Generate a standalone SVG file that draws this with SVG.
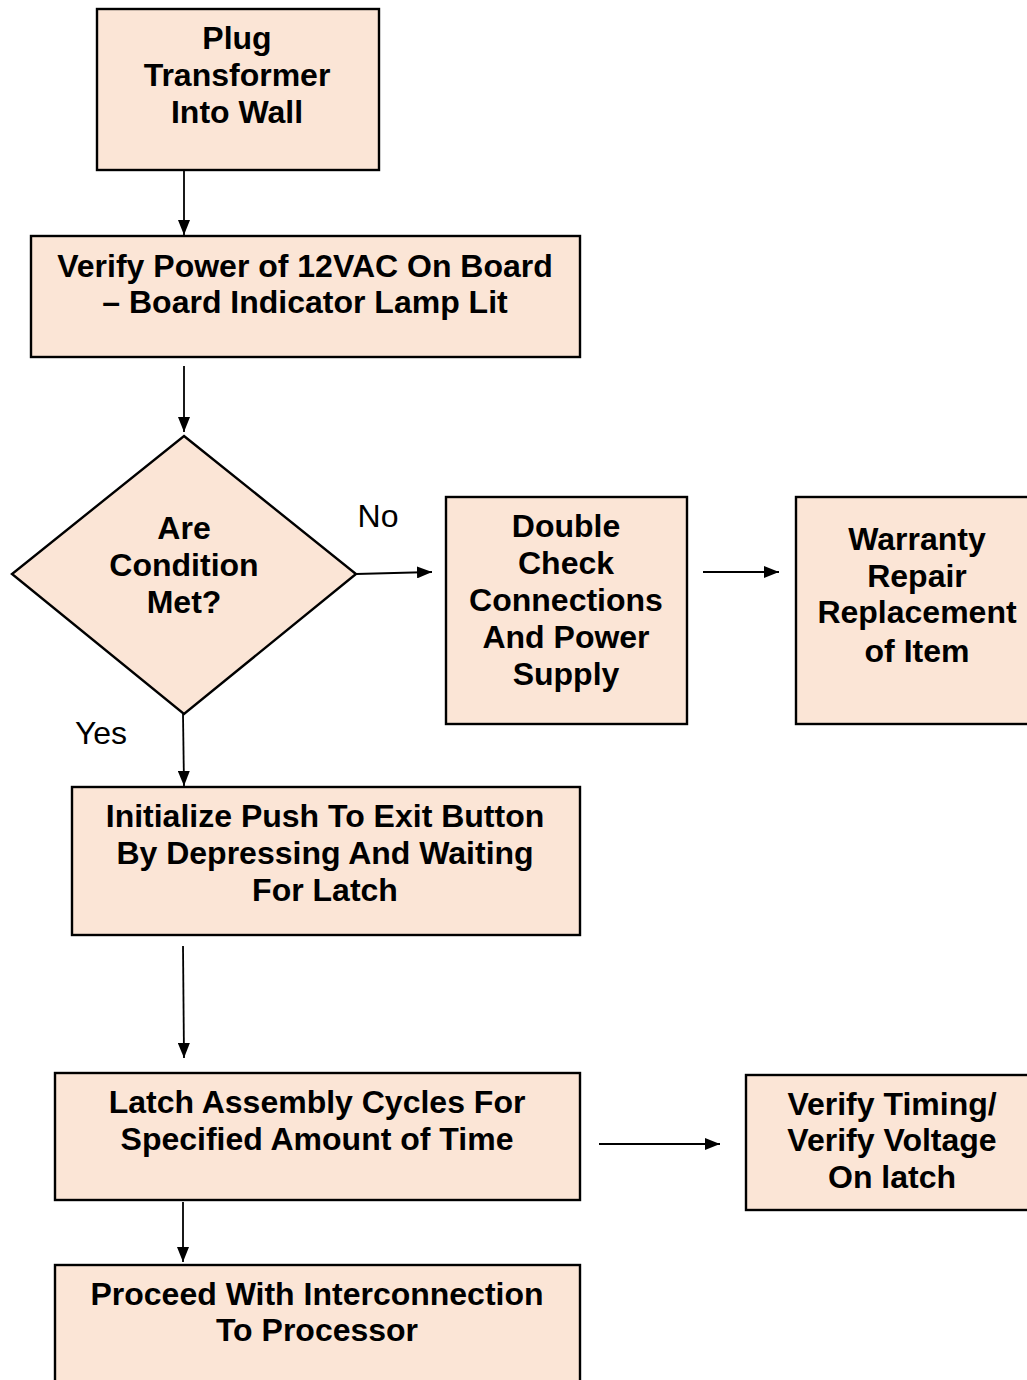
<svg xmlns="http://www.w3.org/2000/svg" width="1027" height="1380" viewBox="0 0 1027 1380">
<defs>
<marker id="ah" viewBox="0 0 15 12" refX="15" refY="6" markerWidth="15" markerHeight="12" markerUnits="userSpaceOnUse" orient="auto">
<path d="M0,0 L15,6 L0,12 Z" fill="#000"/>
</marker>
<style>
.box{fill:#FBE5D6;stroke:#000;stroke-width:2.4}
.t{font-family:"Liberation Sans",Arial,sans-serif;font-weight:bold;font-size:32px;fill:#000;text-anchor:middle}
.l{font-family:"Liberation Sans",Arial,sans-serif;font-size:32px;fill:#000;text-anchor:middle}
.c{stroke:#000;stroke-width:1.8;fill:none;marker-end:url(#ah)}
</style>
</defs>
<rect width="1027" height="1380" fill="#fff"/>
<g id="n1"><rect class="box" x="97" y="9" width="282" height="161"/>
<text class="t" x="237"><tspan x="237" y="49">Plug</tspan><tspan x="237" y="86">Transformer</tspan><tspan x="237" y="123">Into Wall</tspan></text></g>
<g id="n2"><rect class="box" x="31" y="236" width="549" height="121"/>
<text class="t"><tspan x="305" y="277">Verify Power of 12VAC On Board</tspan><tspan x="305" y="313">– Board Indicator Lamp Lit</tspan></text></g>
<g id="n3"><path class="box" d="M184,436 L356,574 L184,714 L12,574 Z"/>
<text class="t"><tspan x="184" y="539">Are</tspan><tspan x="184" y="576">Condition</tspan><tspan x="184" y="613">Met?</tspan></text></g>
<g id="n4"><rect class="box" x="446" y="497" width="241" height="227"/>
<text class="t"><tspan x="566" y="537">Double</tspan><tspan x="566" y="574">Check</tspan><tspan x="566" y="611">Connections</tspan><tspan x="566" y="648">And Power</tspan><tspan x="566" y="685">Supply</tspan></text></g>
<g id="n5"><rect class="box" x="796" y="497" width="250" height="227"/>
<text class="t"><tspan x="917" y="550">Warranty</tspan><tspan x="917" y="587">Repair</tspan><tspan x="917" y="623">Replacement</tspan><tspan x="917" y="662">of Item</tspan></text></g>
<g id="n6"><rect class="box" x="72" y="787" width="508" height="148"/>
<text class="t"><tspan x="325" y="827">Initialize Push To Exit Button</tspan><tspan x="325" y="864">By Depressing And Waiting</tspan><tspan x="325" y="901">For Latch</tspan></text></g>
<g id="n7"><rect class="box" x="55" y="1073" width="525" height="127"/>
<text class="t"><tspan x="317" y="1113">Latch Assembly Cycles For</tspan><tspan x="317" y="1150">Specified Amount of Time</tspan></text></g>
<g id="n8"><rect class="box" x="746" y="1075" width="300" height="135"/>
<text class="t"><tspan x="892" y="1115">Verify Timing/</tspan><tspan x="892" y="1151">Verify Voltage</tspan><tspan x="892" y="1188">On latch</tspan></text></g>
<g id="n9"><rect class="box" x="55" y="1265" width="525" height="130"/>
<text class="t"><tspan x="317" y="1305">Proceed With Interconnection</tspan><tspan x="317" y="1341">To Processor</tspan></text></g>
<g id="connectors">
<line class="c" x1="184" y1="170" x2="184" y2="235"/>
<line class="c" x1="184" y1="366" x2="184" y2="432"/>
<line class="c" x1="356" y1="574" x2="432" y2="572"/>
<line class="c" x1="703" y1="572" x2="779" y2="572"/>
<line class="c" x1="183" y1="714" x2="184" y2="786"/>
<line class="c" x1="183" y1="946" x2="184" y2="1058"/>
<line class="c" x1="599" y1="1144" x2="720" y2="1144"/>
<line class="c" x1="183" y1="1202" x2="183" y2="1262"/>
<text class="l" x="378" y="527">No</text>
<text class="l" x="101" y="744">Yes</text>
</g>
</svg>
